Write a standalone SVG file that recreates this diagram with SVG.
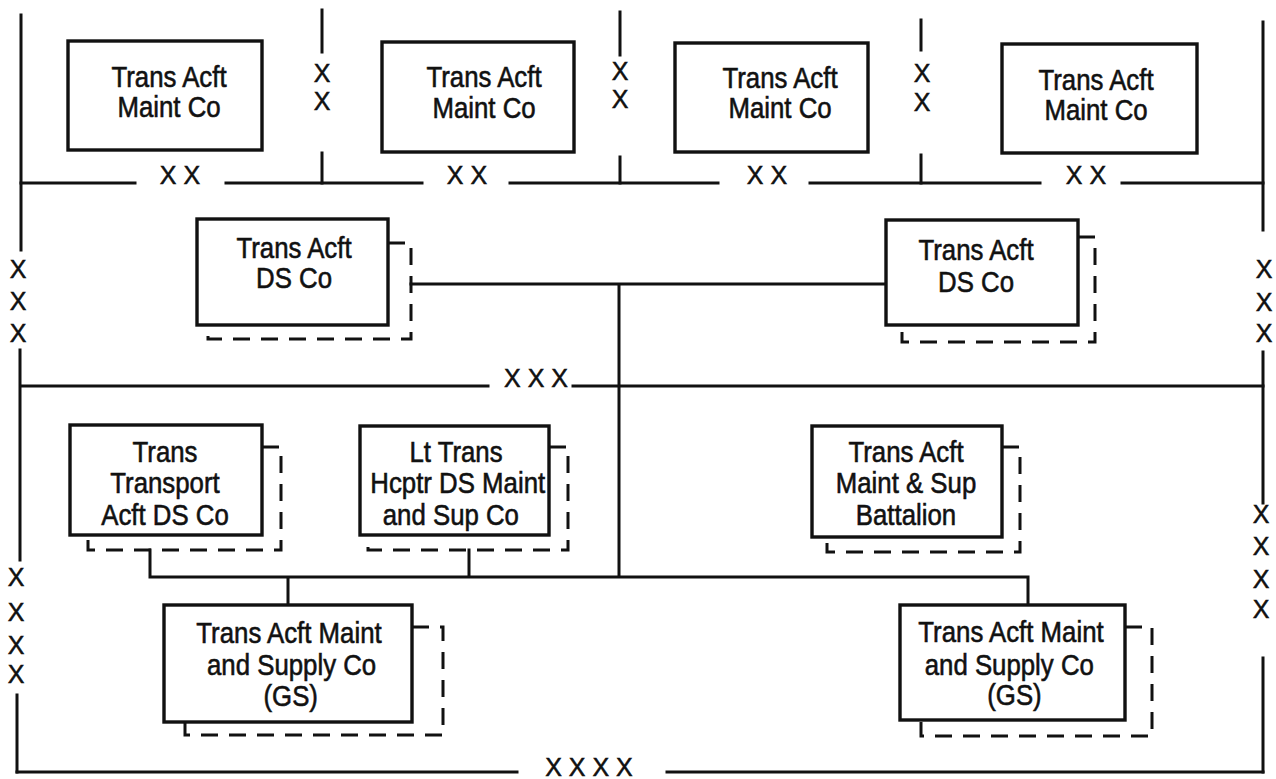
<svg xmlns="http://www.w3.org/2000/svg" width="1276" height="779" viewBox="0 0 1276 779">
<style>
.ln{stroke:#111;stroke-width:3;fill:none;stroke-linecap:square}
.bx{stroke:#111;stroke-width:3.4;fill:#fff}
.sh{stroke:#111;stroke-width:3;fill:none;stroke-dasharray:17 11}
.t{font-family:"Liberation Sans",Arial,sans-serif;font-size:30px;text-anchor:middle;fill:#111;stroke:#111;stroke-width:0.6}
.x{font-family:"Liberation Sans",Arial,sans-serif;font-size:25px;text-anchor:middle;fill:#111;stroke:#111;stroke-width:0.5}
</style>
<rect width="1276" height="779" fill="#fff"/>
<g id="frame">
<path class="ln" d="M21 15V250M20 350V560M17 695V772M1263 22V230M1263 352V503M1263 658V772"/>
<path class="ln" d="M21 183H135M226 183H422M510 183H718M810 183H1040M1122 183H1263"/>
<path class="ln" d="M322 10V52M322 153V183M620 12V55M620 157V183M921 20V50M921 155V183"/>
<path class="ln" d="M21 386H488M573 386H1263"/>
<path class="ln" d="M17 772H517M667 772H1263"/>
<g class="x">
<text x="180" y="184">X X</text><text x="467" y="184">X X</text><text x="767" y="184">X X</text><text x="1086" y="184">X X</text>
<text x="322" y="82">X</text><text x="322" y="110">X</text>
<text x="620" y="80">X</text><text x="620" y="108">X</text>
<text x="922" y="82">X</text><text x="922" y="111">X</text>
<text x="18" y="278">X</text><text x="18" y="310">X</text><text x="18" y="342">X</text>
<text x="1264" y="278">X</text><text x="1264" y="311">X</text><text x="1264" y="342">X</text>
<text x="536" y="387">X X X</text>
<text x="16" y="586">X</text><text x="16" y="621">X</text><text x="16" y="654">X</text><text x="16" y="683">X</text>
<text x="1261" y="523">X</text><text x="1261" y="555">X</text><text x="1261" y="588">X</text><text x="1261" y="618">X</text>
<text x="589" y="776">X X X X</text>
</g>
</g>
<g id="connectors">
<path class="ln" d="M411 284H886M619 284V577M150 577H1028M150 550V577M469 550V577M288 577V605M1028 577V605"/>
</g>
<g id="maint1"><rect class="bx" x="68" y="41" width="194" height="109"/>
<g transform="translate(169 0) scale(0.86 1)"><text class="t" x="0" y="87">Trans Acft</text><text class="t" x="0" y="117">Maint Co</text></g></g>
<g id="maint2"><rect class="bx" x="382" y="42" width="192" height="110"/>
<g transform="translate(484 0) scale(0.86 1)"><text class="t" x="0" y="87">Trans Acft</text><text class="t" x="0" y="118">Maint Co</text></g></g>
<g id="maint3"><rect class="bx" x="675" y="43" width="193" height="109"/>
<g transform="translate(780 0) scale(0.86 1)"><text class="t" x="0" y="88">Trans Acft</text><text class="t" x="0" y="118">Maint Co</text></g></g>
<g id="maint4"><rect class="bx" x="1002" y="44" width="195" height="109"/>
<g transform="translate(1096 0) scale(0.86 1)"><text class="t" x="0" y="90">Trans Acft</text><text class="t" x="0" y="120">Maint Co</text></g></g>
<g id="ds1"><path class="sh" d="M388 243H411V339H208V325"/><rect class="bx" x="197" y="219" width="191" height="106"/>
<g transform="translate(294 0) scale(0.86 1)"><text class="t" x="0" y="258">Trans Acft</text><text class="t" x="0" y="288">DS Co</text></g></g>
<g id="ds2"><path class="sh" d="M1078 237H1095V342H902V325"/><rect class="bx" x="886" y="220" width="192" height="105"/>
<g transform="translate(976 0) scale(0.86 1)"><text class="t" x="0" y="260">Trans Acft</text><text class="t" x="0" y="292">DS Co</text></g></g>
<g id="transport"><path class="sh" d="M262 447H281V550H88V535"/><rect class="bx" x="70" y="425" width="192" height="110"/>
<g transform="translate(165 0) scale(0.86 1)"><text class="t" x="0" y="462">Trans</text><text class="t" x="0" y="493">Transport</text><text class="t" x="0" y="525">Acft DS Co</text></g></g>
<g id="hcptr"><path class="sh" d="M549 447H568V550H368V535"/><rect class="bx" x="360" y="426" width="189" height="109"/>
<g transform="translate(456 0) scale(0.86 1)"><text class="t" x="0" y="462">Lt Trans</text><text class="t" x="2" y="493">Hcptr DS Maint</text><text class="t" x="-6" y="525">and Sup Co</text></g></g>
<g id="battalion"><path class="sh" d="M1002 447H1020V552H827V537"/><rect class="bx" x="812" y="426" width="190" height="111"/>
<g transform="translate(906 0) scale(0.86 1)"><text class="t" x="0" y="462">Trans Acft</text><text class="t" x="0" y="493">Maint &amp; Sup</text><text class="t" x="0" y="525">Battalion</text></g></g>
<g id="gs1"><path class="sh" d="M412 627H443V735H185V722"/><rect class="bx" x="164" y="605" width="248" height="117"/>
<g transform="translate(289 0) scale(0.86 1)"><text class="t" x="0" y="643">Trans Acft Maint</text><text class="t" x="3" y="675">and Supply Co</text><text class="t" x="2" y="706">(GS)</text></g></g>
<g id="gs2"><path class="sh" d="M1125 627H1152V736H921V720"/><rect class="bx" x="900" y="605" width="225" height="115"/>
<g transform="translate(1011 0) scale(0.86 1)"><text class="t" x="0" y="642">Trans Acft Maint</text><text class="t" x="-2" y="675">and Supply Co</text><text class="t" x="4" y="705">(GS)</text></g></g>
</svg>
